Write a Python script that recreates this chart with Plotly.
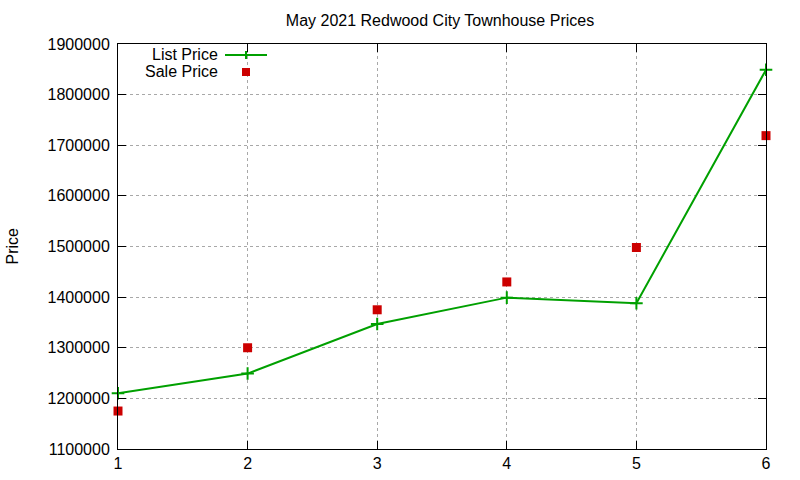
import plotly.graph_objects as go

x_vals = [1, 2, 3, 4, 5, 6]
list_price = [1210000, 1249000, 1347000, 1399000, 1388000, 1849000]
sale_price = [1175000, 1300000, 1375000, 1430000, 1498000, 1719000]
y_ticks = [1100000, 1200000, 1300000, 1400000, 1500000, 1600000, 1700000, 1800000, 1900000]

GREEN = "#00a000"
RED = "#cc0000"
FONT = "Liberation Sans, Arial, sans-serif"

fig = go.Figure()
fig.add_trace(go.Scatter(
    x=x_vals, y=list_price, mode="lines+markers", name="List Price",
    line=dict(color=GREEN, width=2),
    marker=dict(symbol="cross-thin", size=9, line=dict(color=GREEN, width=2)),
    showlegend=False, cliponaxis=False,
))
fig.add_trace(go.Scatter(
    x=x_vals, y=sale_price, mode="markers", name="Sale Price",
    marker=dict(symbol="square", size=9, color=RED),
    showlegend=False, cliponaxis=False,
))

axis_common = dict(
    showline=True, linecolor="black", linewidth=1, mirror="allticks",
    ticks="inside", ticklen=8, tickcolor="black",
    showgrid=True, gridcolor="#a8a8a8", griddash="dot", gridwidth=1,
    zeroline=False, tickfont=dict(family=FONT, size=16, color="black"),
    automargin=False,
)

MT, MB = 44, 31
fig.update_layout(
    width=800, height=480, autosize=False,
    margin=dict(l=118, r=34, t=MT, b=MB, pad=0, autoexpand=False),
    plot_bgcolor="white", paper_bgcolor="white",
    title=dict(text="May 2021 Redwood City Townhouse Prices", x=0.55, xanchor="center",
               y=0.958, yanchor="middle", font=dict(family=FONT, size=16, color="black")),
    xaxis=dict(range=[1, 6], tickvals=x_vals, ticktext=[str(v) for v in x_vals],
               **axis_common),
    yaxis=dict(range=[1100000, 1900000], tickvals=y_ticks, ticktext=[str(v) for v in y_ticks],
               ticklabelstandoff=4, **axis_common),
    font=dict(family=FONT, size=16, color="black"),
)

px0, pw = 118, 648
py0, ph = MT, 480 - MT - MB
def px(xp):
    return (xp - px0) / pw
def py(yp):
    return 1 - (yp - py0) / ph

# y axis title
fig.add_annotation(text="Price", xref="paper", yref="paper", x=px(12), y=0.5,
                   textangle=-90, showarrow=False, font=dict(family=FONT, size=16),
                   xanchor="center", yanchor="middle")

# manual gnuplot-style legend (text right, sample to the right)
fig.add_annotation(text="List Price", xref="paper", yref="paper", x=px(220), y=py(55),
                   xanchor="right", yanchor="middle", showarrow=False,
                   font=dict(family=FONT, size=16))
fig.add_annotation(text="Sale Price", xref="paper", yref="paper", x=px(220), y=py(71),
                   xanchor="right", yanchor="middle", showarrow=False,
                   font=dict(family=FONT, size=16))
fig.add_shape(type="line", xref="paper", yref="paper", x0=px(225), x1=px(267), y0=py(55), y1=py(55),
              line=dict(color=GREEN, width=2))
fig.add_shape(type="line", xref="paper", yref="paper", x0=px(246), x1=px(246), y0=py(51), y1=py(59),
              line=dict(color=GREEN, width=2))
fig.add_shape(type="rect", xref="paper", yref="paper", x0=px(242), x1=px(250), y0=py(68), y1=py(76),
              line=dict(width=0), fillcolor=RED)

fig.write_html("out.html")
